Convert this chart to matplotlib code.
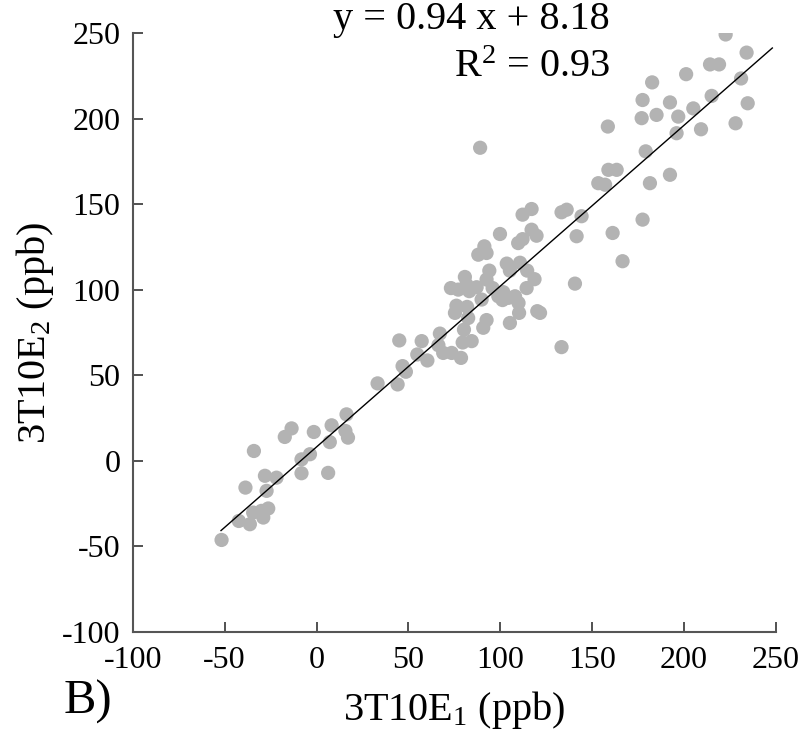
import numpy as np
import matplotlib
matplotlib.use("Agg")
import matplotlib.pyplot as plt

plt.rcParams["font.family"] = "Liberation Serif"
plt.rcParams["mathtext.fontset"] = "custom"
plt.rcParams["mathtext.rm"] = "Liberation Serif"
plt.rcParams["mathtext.it"] = "Liberation Serif:italic"
plt.rcParams["axes.unicode_minus"] = False

e1 = [
    -51.7, -42.3, -36.3, -34.5, -30.0, -26.3, -29.0, -38.7, -34.1, -28.1,
    -27.2, -21.8, -17.3, -13.6, -8.2, -3.6, -8.2, -1.5, 6.3, 7.2,
    8.2, 15.7, 17.1, 16.3,
    33.2, 44.1, 46.8, 48.6, 45.0, 54.8, 57.2, 60.3, 67.1, 66.3,
    68.9, 73.5, 78.6, 79.5, 84.4, 80.2, 82.5, 75.3, 76.1, 81.9,
    90.7, 92.5, 89.8, 73.1, 77.1, 80.7, 81.6, 83.1, 87.1, 92.5,
    94.0, 95.8, 98.9, 101.6, 104.4, 108.0, 109.9, 110.2, 105.2, 101.2,
    114.3, 118.6, 120.1, 121.6, 103.5, 105.2, 110.7, 114.6, 88.0, 91.3,
    92.5, 99.8, 109.7, 112.1, 117.0, 119.7, 112.1, 117.0, 133.3, 136.1,
    140.6, 133.3, 141.5, 89.0, 144.2,
    153.3, 157.0, 161.1, 166.5, 158.5, 179.1, 158.8, 163.3, 181.4, 192.3,
    177.4, 177.4, 192.3, 176.9, 185.0, 196.8, 195.9, 182.6, 222.6, 234.0,
    214.1, 219.0, 201.1, 231.0, 215.0, 205.0, 234.6, 209.2, 228.0,
]
e2 = [
    -46.2, -35.1, -37.0, -30.2, -29.2, -27.8, -33.1, -15.6, 5.8, -8.7,
    -17.5, -9.8, 14.0, 19.0, 0.9, 3.9, -7.2, 16.9, -7.0, 11.0,
    20.8, 17.5, 13.6, 27.2,
    45.3, 44.7, 55.4, 52.1, 70.4, 62.2, 70.0, 58.7, 74.4, 67.6,
    63.1, 63.1, 60.2, 69.2, 70.0, 76.7, 83.5, 86.5, 90.7, 90.0,
    77.8, 82.3, 94.3, 101.0, 100.1, 107.5, 103.0, 99.2, 101.5, 106.0,
    111.2, 101.0, 96.2, 98.6, 95.3, 96.2, 92.3, 86.5, 80.6, 94.0,
    101.0, 106.2, 87.5, 86.5, 115.3, 111.2, 115.8, 111.2, 120.5, 125.4,
    121.5, 132.6, 127.3, 129.6, 135.1, 131.6, 143.9, 147.2, 145.3, 146.8,
    103.6, 66.5, 131.3, 183.0, 143.0,
    162.3, 161.4, 133.2, 116.7, 195.4, 180.9, 170.1, 170.1, 162.3, 167.2,
    141.0, 210.9, 209.5, 200.3, 202.2, 201.2, 191.5, 221.2, 249.2, 238.6,
    231.7, 231.7, 226.0, 223.5, 213.3, 206.0, 209.0, 193.8, 197.3,
]

slope, intercept, r2 = 0.94, 8.18, 0.93
fit_range = [-52, 248]

fig = plt.figure(figsize=(8, 7.44), dpi=100)
ax = fig.add_axes([0.166, 0.1505, 0.804, 0.805])

ax.scatter(e1, e2, s=105, color="#b3b3b3", edgecolors="none", zorder=2)
fx = np.array(fit_range)
ax.plot(fx, slope * fx + intercept, color="black", lw=1.0, zorder=3)

ax.set_xlim(-100, 250)
ax.set_ylim(-100, 250)
ax.set_xticks(np.arange(-100, 251, 50))
ax.set_yticks(np.arange(-100, 251, 50))
ax.tick_params(direction="in", length=7, width=1.2, colors="#333333",
               labelsize=23, labelcolor="black")
ax.tick_params(axis="x", pad=10)
ax.tick_params(axis="y", pad=9)
for side in ["top", "right"]:
    ax.spines[side].set_visible(False)
for side in ["left", "bottom"]:
    ax.spines[side].set_color("#555555")
    ax.spines[side].set_linewidth(1.5)

ax.set_xlabel("3T10E$_1$ (ppb)", fontsize=29, labelpad=10)
ax.set_ylabel("3T10E$_2$ (ppb)", fontsize=29, labelpad=4)

ax.text(0.742, 1.022, f"y = {slope:.2f} x + {intercept:.2f}", transform=ax.transAxes,
        ha="right", va="center", fontsize=29)
ax.text(0.742, 0.943, f"R$^2$ = {r2:.2f}", transform=ax.transAxes,
        ha="right", va="center", fontsize=29)

fig.text(0.08, 0.056, "B)", fontsize=35, ha="left", va="center")

fig.savefig("out.png", dpi=100)
